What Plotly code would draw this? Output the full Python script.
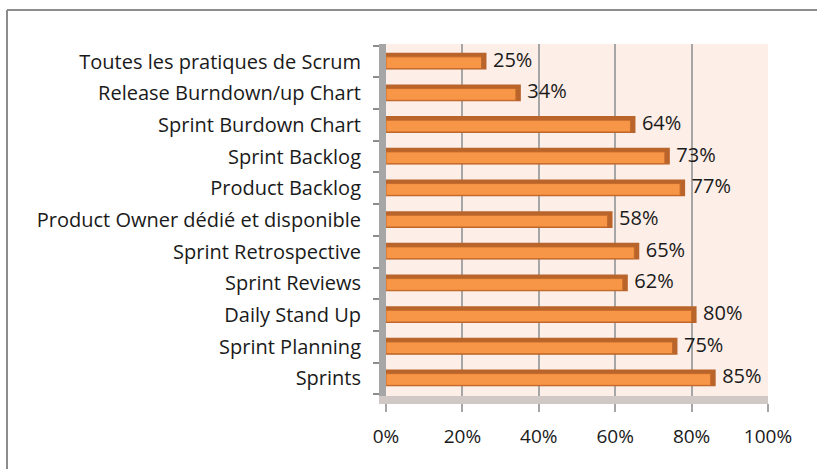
import plotly.graph_objects as go

categories = ["Sprints", "Sprint Planning", "Daily Stand Up", "Sprint Reviews",
              "Sprint Retrospective", "Product Owner dédié et disponible",
              "Product Backlog", "Sprint Backlog", "Sprint Burdown Chart",
              "Release Burndown/up Chart", "Toutes les pratiques de Scrum"]
values = [0.85, 0.75, 0.80, 0.62, 0.65, 0.58, 0.77, 0.73, 0.64, 0.34, 0.25]
tick_vals = [0, 0.2, 0.4, 0.6, 0.8, 1.0]
tick_text = ["0%", "20%", "40%", "60%", "80%", "100%"]

LIGHT = "#F79646"
DARK = "#B9642A"
FONT = "Open Sans"

W, H = 817, 469
L, R, T, B = 386, 49, 44, 73

fig = go.Figure()
# darker "3D" body (top + side face)
fig.add_trace(go.Bar(
    y=categories, x=[v + 0.013 for v in values], orientation="h",
    width=0.53, offset=-0.25, marker=dict(color=DARK, line=dict(width=0)),
    hoverinfo="skip", showlegend=False))
# light front face
fig.add_trace(go.Bar(
    y=categories, x=values, orientation="h",
    width=0.37, offset=-0.22,
    marker=dict(color=LIGHT, line=dict(color="#C46A2C", width=1)),
    showlegend=False))
# data labels
fig.add_trace(go.Scatter(
    y=categories, x=[v + 0.03 for v in values], mode="text",
    text=[f"{round(v*100)}%" for v in values], textposition="middle right",
    textfont=dict(family=FONT, size=20, color="#1a1a1a"),
    hoverinfo="skip", showlegend=False))

fig.update_layout(
    width=W, height=H,
    margin=dict(l=L, r=R, t=T, b=B, pad=0),
    paper_bgcolor="white", plot_bgcolor="#FDEEE7",
    barmode="overlay",
    font=dict(family=FONT, size=19, color="#1a1a1a"),
    xaxis=dict(range=[0, 1.0], tickvals=tick_vals, ticktext=tick_text,
               showgrid=True, gridcolor="#A6A6A6", gridwidth=1.5,
               zeroline=False, showline=True, linecolor="#CFC8C4", linewidth=8,
               ticks="outside", ticklen=8, tickcolor="#A6A6A6", tickwidth=1.5,
               ticklabelstandoff=8,
               tickfont=dict(family=FONT, size=19, color="#1a1a1a"),
               fixedrange=True),
    yaxis=dict(categoryorder="array", categoryarray=categories,
               showgrid=False, zeroline=False,
               showline=True, linecolor="#A6A6A6", linewidth=7,
               ticks="outside", tickson="boundaries", ticklen=6,
               tickcolor="#8C8C8C", tickwidth=1.5, ticklabelstandoff=14,
               tickfont=dict(family=FONT, size=20, color="#1a1a1a"),
               fixedrange=True),
    shapes=[
        dict(type="line", xref="paper", yref="paper",
             x0=(7 - L) / (W - L - R), x1=2, y0=1 + (T - 10) / (H - T - B),
             y1=1 + (T - 10) / (H - T - B),
             line=dict(color="#8C8C8C", width=2)),
        dict(type="line", xref="paper", yref="paper",
             x0=(7 - L) / (W - L - R), x1=(7 - L) / (W - L - R),
             y0=-1, y1=1 + (T - 10) / (H - T - B),
             line=dict(color="#8C8C8C", width=2)),
    ],
)

fig.write_html("out.html", config={"displayModeBar": False},
               post_script="document.body.style.margin='0';")
